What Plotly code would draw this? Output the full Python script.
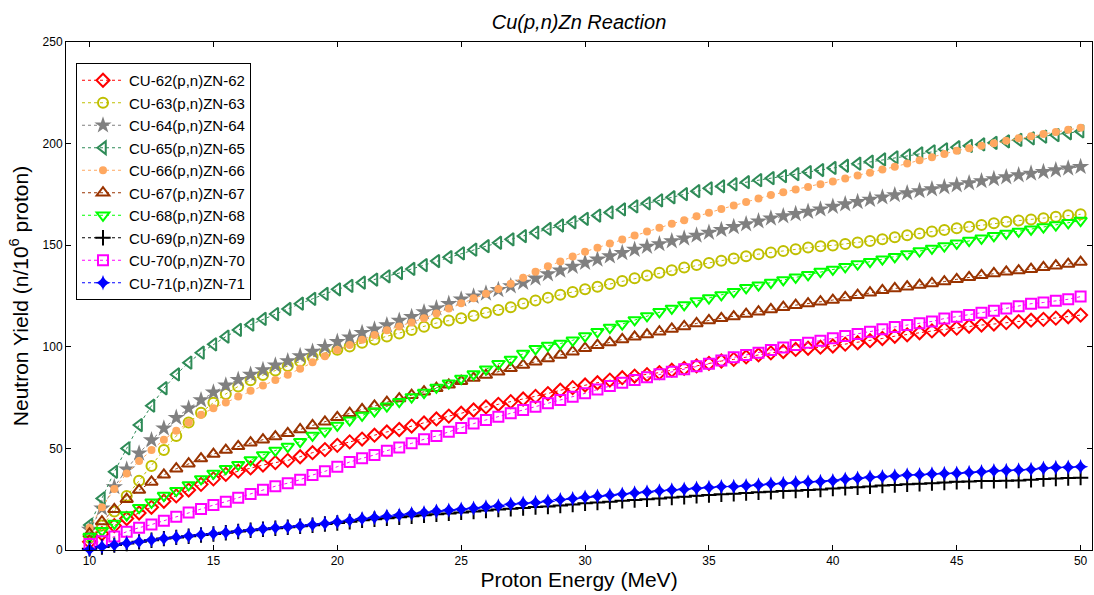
import plotly.graph_objects as go

energy = [10 + 0.5 * i for i in range(81)]

cu62 = [4.0, 8.0, 12.0, 15.5, 18.2, 21.0, 24.0, 26.6, 29.5, 32.3, 35.0, 37.2, 38.8, 40.4, 41.8, 43.0, 44.1, 45.9, 47.9, 49.4,
        51.5, 53.2, 54.6, 56.5, 58.1, 59.3, 61.0, 62.5, 64.5, 65.9, 67.3, 68.9, 70.4, 71.7, 73.0, 74.3, 75.6, 77.0, 78.6, 79.9,
        81.2, 82.3, 83.6, 84.8, 85.6, 86.3, 87.3, 88.5, 89.4, 90.6, 91.8, 93.0, 93.8, 95.0, 96.0, 97.0, 97.7, 98.7, 99.3, 99.8,
        100.4, 101.3, 102.0, 103.0, 104.1, 105.2, 105.9, 106.9, 107.8, 108.6, 109.2, 110.1, 110.7, 111.2, 111.9, 112.4, 113.1, 113.5, 114.1, 114.8,
        115.6]
cu63 = [6.0, 12.0, 19.0, 26.6, 34.1, 41.3, 49.2, 56.1, 62.7, 67.6, 72.5, 76.8, 80.5, 83.5, 86.1, 88.3, 90.6, 92.9, 95.0, 97.0,
        98.6, 100.2, 102.0, 103.6, 105.1, 106.6, 108.3, 109.9, 111.7, 112.9, 114.0, 115.3, 116.8, 118.1, 119.5, 121.3, 122.8, 124.2, 125.6, 127.0,
        128.3, 129.6, 130.9, 132.4, 133.7, 135.1, 136.4, 137.7, 139.0, 140.2, 141.3, 142.4, 143.5, 144.6, 145.6, 146.4, 147.2, 148.0, 148.9, 149.5,
        149.9, 150.6, 151.3, 152.1, 152.9, 153.9, 154.9, 155.8, 156.7, 157.5, 158.3, 159.1, 159.9, 160.8, 161.5, 162.1, 162.7, 163.3, 164.0, 164.7,
        165.2]
cu64 = [10.0, 20.5, 31.0, 39.7, 47.6, 54.1, 59.9, 65.1, 69.7, 73.8, 77.6, 81.0, 83.8, 86.3, 88.6, 90.9, 93.0, 95.5, 97.6, 100.0,
        102.5, 104.7, 106.9, 108.6, 110.7, 112.9, 114.8, 117.1, 119.0, 121.2, 123.4, 124.8, 126.3, 128.0, 129.9, 131.6, 133.7, 135.8, 137.6, 139.5,
        141.4, 143.0, 144.6, 146.2, 147.8, 149.3, 150.6, 152.0, 153.4, 154.8, 156.2, 157.6, 159.0, 160.4, 161.8, 163.2, 164.3, 165.4, 166.5, 167.7,
        169.0, 170.2, 171.3, 172.4, 173.6, 174.7, 175.7, 176.7, 177.6, 178.6, 179.6, 180.6, 181.6, 182.6, 183.5, 184.5, 185.3, 186.1, 187.0, 187.8,
        188.6]
cu65 = [12.3, 25.4, 38.5, 50.0, 61.5, 71.0, 79.6, 86.4, 92.2, 97.1, 101.2, 105.0, 108.3, 110.9, 113.7, 116.1, 118.6, 121.2, 123.6, 126.0,
        128.3, 130.0, 131.6, 133.1, 134.7, 136.3, 138.3, 140.2, 142.2, 144.1, 146.0, 147.8, 149.5, 151.2, 152.9, 154.5, 156.2, 158.0, 159.7, 161.3,
        163.0, 164.6, 166.1, 167.6, 169.1, 170.6, 172.1, 173.6, 175.1, 176.6, 178.0, 179.0, 180.0, 181.0, 182.0, 183.0, 184.0, 185.0, 186.0, 187.0,
        188.0, 189.1, 190.1, 191.1, 192.2, 193.2, 194.2, 195.2, 196.2, 197.2, 198.2, 198.9, 199.6, 200.4, 201.1, 201.8, 202.6, 203.4, 204.2, 205.1,
        206.0]
cu66 = [11.0, 21.0, 30.0, 37.7, 43.8, 49.2, 54.3, 58.7, 62.8, 66.6, 69.8, 72.6, 75.5, 78.4, 81.0, 83.6, 86.2, 89.2, 92.4, 95.3,
        98.4, 100.9, 103.5, 105.8, 108.1, 110.0, 112.0, 114.1, 116.4, 118.9, 121.4, 123.9, 126.1, 128.4, 131.0, 134.0, 136.9, 139.6, 142.0, 144.5,
        146.8, 148.8, 150.8, 152.8, 154.8, 156.7, 158.6, 160.5, 162.3, 164.2, 166.0, 167.8, 169.5, 171.2, 173.0, 174.7, 176.0, 177.4, 178.7, 180.0,
        181.3, 182.8, 184.3, 185.7, 187.2, 188.6, 190.2, 191.8, 193.3, 194.9, 196.5, 197.7, 198.9, 200.2, 201.4, 202.6, 203.6, 204.7, 205.7, 206.8,
        207.8]
cu67 = [8.0, 14.0, 20.0, 25.0, 29.5, 33.5, 37.0, 40.0, 42.5, 45.0, 47.2, 49.2, 51.0, 52.8, 54.3, 55.8, 57.4, 59.3, 61.3, 63.1,
        65.3, 67.3, 69.2, 70.9, 72.8, 74.5, 76.2, 77.9, 79.6, 81.3, 83.1, 84.6, 86.1, 87.7, 89.4, 91.0, 92.7, 94.3, 96.0, 97.6,
        99.3, 100.8, 102.1, 103.6, 104.9, 106.0, 107.4, 108.8, 110.0, 111.5, 113.0, 114.0, 114.9, 116.1, 117.3, 118.4, 119.5, 120.5, 121.3, 122.2,
        123.0, 124.3, 125.4, 126.6, 127.8, 128.7, 129.6, 130.4, 131.2, 132.1, 133.2, 134.2, 135.2, 136.1, 136.9, 137.5, 138.2, 139.1, 139.9, 140.7,
        141.7]
cu68 = [6.6, 9.5, 13.1, 17.2, 20.8, 23.5, 26.8, 29.2, 32.0, 35.0, 37.7, 40.0, 42.0, 44.3, 46.8, 49.0, 50.9, 53.3, 56.4, 58.4,
        61.3, 63.9, 66.2, 68.3, 70.8, 73.0, 75.3, 77.5, 80.0, 82.1, 84.4, 86.6, 89.0, 91.6, 93.8, 96.7, 99.0, 100.6, 101.6, 103.2,
        105.3, 107.4, 109.5, 111.2, 113.2, 115.2, 117.2, 118.9, 120.6, 122.5, 124.0, 125.5, 127.1, 129.0, 130.3, 131.6, 132.9, 134.2, 135.4, 137.0,
        138.1, 139.4, 140.7, 141.9, 143.1, 144.3, 145.7, 147.1, 148.4, 149.6, 150.9, 152.3, 153.4, 154.6, 155.8, 156.8, 157.8, 158.9, 159.9, 161.0,
        162.1]
cu69 = [0.6, 1.5, 2.4, 3.2, 4.0, 4.8, 5.6, 6.2, 6.8, 7.4, 7.9, 8.5, 9.1, 9.7, 10.2, 10.7, 11.2, 11.7, 12.2, 12.8,
        13.3, 13.9, 14.6, 15.1, 15.6, 16.1, 16.6, 17.1, 17.6, 18.0, 18.5, 18.9, 19.4, 19.9, 20.3, 20.7, 21.1, 21.4, 21.9, 22.4,
        23.0, 23.4, 23.8, 24.2, 24.6, 25.0, 25.4, 25.8, 26.2, 26.7, 27.1, 27.4, 27.7, 28.0, 28.4, 28.7, 29.0, 29.2, 29.5, 29.8,
        30.3, 30.6, 30.9, 31.3, 31.7, 32.0, 32.3, 32.6, 32.9, 33.2, 33.6, 33.7, 33.9, 34.0, 34.1, 34.2, 34.6, 34.9, 35.2, 35.4,
        35.6]
cu70 = [3.0, 4.3, 6.6, 9.0, 11.0, 12.5, 14.4, 16.4, 18.4, 20.2, 22.1, 23.8, 25.7, 27.6, 29.6, 31.4, 32.9, 34.6, 36.9, 38.7,
        41.0, 43.3, 45.1, 46.8, 48.9, 50.5, 52.5, 54.5, 56.1, 58.2, 60.0, 62.2, 64.0, 65.6, 67.3, 68.9, 70.5, 72.2, 73.8, 75.4,
        77.1, 79.0, 80.7, 82.3, 83.7, 85.0, 86.5, 87.7, 88.9, 90.4, 91.6, 93.2, 94.8, 96.0, 97.1, 98.4, 99.7, 100.9, 102.0, 103.0,
        104.2, 105.3, 106.3, 107.4, 108.6, 109.8, 110.7, 111.6, 112.5, 113.9, 114.8, 115.6, 116.8, 117.8, 118.9, 120.0, 121.2, 121.8, 122.7, 123.4,
        124.7]
cu71 = [0.3, 1.6, 2.5, 3.3, 4.1, 4.9, 5.7, 6.3, 6.9, 7.5, 8.0, 8.6, 9.3, 9.8, 10.3, 10.9, 11.3, 11.8, 12.4, 13.1,
        13.8, 14.6, 15.4, 16.0, 16.6, 17.2, 17.9, 18.4, 19.1, 19.6, 20.1, 20.6, 21.2, 21.7, 22.5, 23.0, 23.4, 24.0, 24.8, 25.3,
        26.0, 26.5, 27.0, 27.5, 28.1, 28.6, 29.1, 29.5, 29.9, 30.4, 30.8, 31.2, 31.3, 31.6, 32.0, 32.5, 32.8, 33.1, 33.5, 33.7,
        34.1, 34.8, 35.3, 35.8, 36.1, 36.4, 36.9, 37.0, 37.4, 37.7, 37.8, 38.2, 38.5, 39.0, 39.1, 39.4, 39.7, 40.2, 40.6, 40.7,
        41.0]

names = ["CU-62(p,n)ZN-62", "CU-63(p,n)ZN-63", "CU-64(p,n)ZN-64", "CU-65(p,n)ZN-65", "CU-66(p,n)ZN-66",
         "CU-67(p,n)ZN-67", "CU-68(p,n)ZN-68", "CU-69(p,n)ZN-69", "CU-70(p,n)ZN-70", "CU-71(p,n)ZN-71"]
series = [cu62, cu63, cu64, cu65, cu66, cu67, cu68, cu69, cu70, cu71]

styles = [
    ("#FF0000", "diamond-open", 10, 2),
    ("#BFBF00", "circle-open", 10, 2),
    ("#808080", "star", 13, 0),
    ("#2E8B57", "triangle-left-open", 11, 2),
    ("#FFA860", "circle", 8, 0),
    ("#993300", "triangle-up-open", 11, 2),
    ("#00FF00", "triangle-down-open", 11, 2),
    ("#000000", "cross-thin-open", 11, 2),
    ("#FF00FF", "square-open", 10, 2),
    ("#0000FF", "star-diamond", 11, 0),
]

fig = go.Figure()
for name, vals, (col, sym, sz, lw) in zip(names, series, styles):
    mk = dict(symbol=sym, size=sz, color=col, line=dict(color=col, width=lw))
    fig.add_trace(go.Scatter(
        x=energy, y=vals, name=name, mode="lines+markers",
        line=dict(color=col, width=1, dash="dot"),
        marker=mk, cliponaxis=False,
    ))

axis_common = dict(
    showline=True, linecolor="black", linewidth=1, mirror="ticks",
    ticks="inside", ticklen=5, tickcolor="black", showgrid=False, zeroline=False,
    automargin=False,
    tickfont=dict(family="Liberation Sans, Arial", size=12, color="black"),
)

fig.update_layout(
    width=1094, height=595,
    paper_bgcolor="white", plot_bgcolor="white",
    margin=dict(l=66, r=2, t=42, b=45),
    font=dict(family="Liberation Sans, Arial", color="black"),
    title=dict(text="<i>Cu(p,n)Zn Reaction</i>", x=0.5, xref="paper", xanchor="center",
               y=(595 - 22) / 595, yanchor="middle",
               font=dict(family="Liberation Sans, Arial", size=20, color="black")),
    xaxis=dict(range=[9.05, 50.46], tickvals=[10, 15, 20, 25, 30, 35, 40, 45, 50],
               title=dict(text="Proton Energy (MeV)", font=dict(size=21), standoff=4), **axis_common),
    yaxis=dict(range=[0, 250], tickvals=[0, 50, 100, 150, 200, 250],
               title=dict(text="Neutron Yield (n/10<sup>6</sup> proton)", font=dict(size=21), standoff=8), **axis_common),
    legend=dict(x=10 / 1026, y=1 - 21 / 508, xanchor="left", yanchor="top",
                bgcolor="white", bordercolor="black", borderwidth=1,
                font=dict(family="Liberation Sans, Arial", size=15, color="black"),
                tracegroupgap=0, itemwidth=42),
    showlegend=True,
)

fig.write_html("out.html", config={"displayModeBar": False},
               post_script="document.body.style.margin='0';document.body.style.overflow='hidden';")
